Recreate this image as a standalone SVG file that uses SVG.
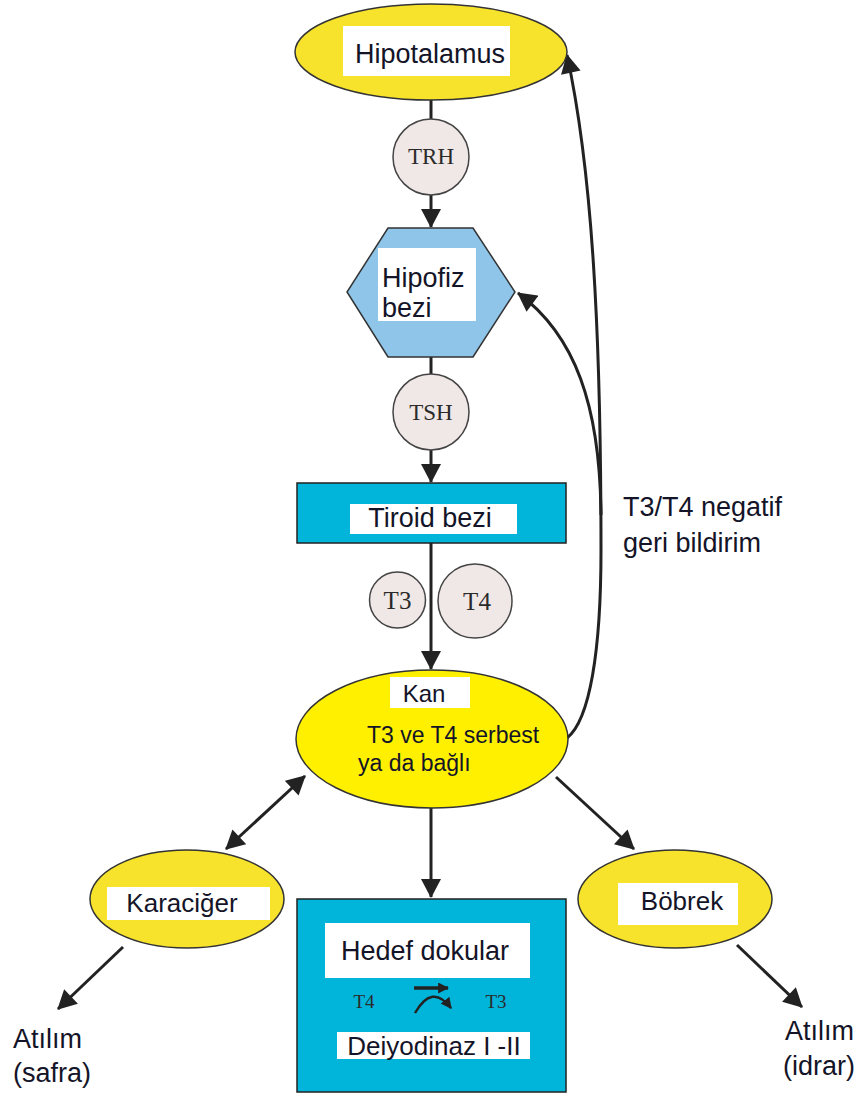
<svg xmlns="http://www.w3.org/2000/svg" width="865" height="1095" viewBox="0 0 865 1095">
<style>
.lbl{font-family:"Liberation Sans",Arial,sans-serif;fill:#141428}
.ser{font-family:"Liberation Serif","Times New Roman",serif;fill:#2a2a2a}
.wb{fill:#ffffff}
.yel{fill:#f7e32c;stroke:#333;stroke-width:1.5}
.cyan{fill:#00b4da;stroke:#222;stroke-width:1.5}
.hc{fill:#f0e8e6;stroke:#444;stroke-width:1.5}
.con{fill:none;stroke:#222;stroke-width:3}
</style>
<defs>
<marker id="ah" markerUnits="userSpaceOnUse" markerWidth="20" markerHeight="20" viewBox="0 0 19 20" refX="18" refY="10" orient="auto-start-reverse">
<path d="M0,0 L19,10 L0,20 z" fill="#222"/>
</marker>
<marker id="sa" markerUnits="userSpaceOnUse" markerWidth="11" markerHeight="11" viewBox="0 0 10 10" refX="9" refY="5" orient="auto">
<path d="M0,0 L10,5 L0,10 z" fill="#222"/>
</marker>
</defs>
<rect width="865" height="1095" fill="#ffffff"/>

<g id="connectors">
<line class="con" x1="431" y1="100" x2="431" y2="119"/>
<line class="con" x1="431" y1="194" x2="431" y2="227" marker-end="url(#ah)"/>
<line class="con" x1="431" y1="357" x2="431" y2="375"/>
<line class="con" x1="431" y1="450" x2="431" y2="482" marker-end="url(#ah)"/>
<line class="con" x1="431" y1="543" x2="431" y2="669" marker-end="url(#ah)"/>
<line class="con" x1="431" y1="808" x2="431" y2="897" marker-end="url(#ah)"/>
<line class="con" x1="305" y1="776" x2="226" y2="849" marker-start="url(#ah)" marker-end="url(#ah)"/>
<line class="con" x1="556" y1="777" x2="634" y2="849" marker-end="url(#ah)"/>
<line class="con" x1="123" y1="947" x2="58" y2="1009" marker-end="url(#ah)"/>
<line class="con" x1="737" y1="945" x2="802" y2="1007" marker-end="url(#ah)"/>
<path class="con" d="M567,738 C590,720 601,650 601,550 C601,330 592,170 567,55" marker-end="url(#ah)"/>
<path class="con" d="M601,515 C600,405 575,335 518,293" marker-end="url(#ah)"/>
</g>

<g id="hipotalamus">
<ellipse class="yel" cx="431" cy="52" rx="136" ry="48"/>
<rect class="wb" x="343" y="26" width="167" height="50"/>
<text class="lbl" x="430" y="63" font-size="27" text-anchor="middle">Hipotalamus</text>
</g>

<g id="trh">
<circle class="hc" cx="431" cy="157" r="38"/>
<text class="ser" x="431" y="164" font-size="23" text-anchor="middle">TRH</text>
</g>

<g id="hipofiz">
<polygon points="388,228 473,228 515,292 473,357 388,357 347,292" fill="#8ec5e9" stroke="#333" stroke-width="1.5"/>
<rect class="wb" x="378" y="248" width="98" height="73"/>
<text class="lbl" x="382" y="287" font-size="27">Hipofiz</text>
<text class="lbl" x="382" y="317" font-size="27">bezi</text>
</g>

<g id="tsh">
<circle class="hc" cx="431" cy="412" r="38"/>
<text class="ser" x="431" y="420" font-size="23" text-anchor="middle">TSH</text>
</g>

<g id="tiroid">
<rect class="cyan" x="297" y="483" width="269" height="60"/>
<rect class="wb" x="350" y="504" width="167" height="30"/>
<text class="lbl" x="430" y="527" font-size="27" text-anchor="middle">Tiroid bezi</text>
</g>

<g id="t3">
<circle class="hc" cx="397.5" cy="600" r="28"/>
<text class="ser" x="397.5" y="609" font-size="25" text-anchor="middle">T3</text>
</g>

<g id="t4">
<circle class="hc" cx="475" cy="601" r="37"/>
<text class="ser" x="477" y="610" font-size="25" text-anchor="middle">T4</text>
</g>

<g id="kan">
<ellipse cx="432" cy="739" rx="136" ry="69" fill="#fff000" stroke="#333" stroke-width="1.5"/>
<rect class="wb" x="390" y="677" width="80" height="31"/>
<text class="lbl" x="424" y="702" font-size="24" text-anchor="middle">Kan</text>
<text class="lbl" x="367" y="743" font-size="23">T3 ve T4 serbest</text>
<text class="lbl" x="358" y="771" font-size="23">ya da bağlı</text>
</g>

<g id="karaciger">
<ellipse class="yel" cx="187" cy="899" rx="97" ry="49"/>
<rect class="wb" x="107" y="887" width="163" height="33"/>
<text class="lbl" x="182" y="912" font-size="26" text-anchor="middle">Karaciğer</text>
</g>

<g id="bobrek">
<ellipse class="yel" cx="675" cy="899" rx="97" ry="49"/>
<rect class="wb" x="618" y="883" width="120" height="42"/>
<text class="lbl" x="682" y="910" font-size="26" text-anchor="middle">Böbrek</text>
</g>

<g id="hedef">
<rect class="cyan" x="297" y="899" width="269" height="193"/>
<rect class="wb" x="325" y="923" width="205" height="55"/>
<text class="lbl" x="425" y="960" font-size="27" text-anchor="middle">Hedef dokular</text>
<text class="ser" x="364" y="1008" font-size="19" text-anchor="middle" fill="#1c2f33">T4</text>
<text class="ser" x="496" y="1008" font-size="19" text-anchor="middle" fill="#1c2f33">T3</text>
<line x1="414" y1="988" x2="448" y2="988" stroke="#222" stroke-width="3.5" marker-end="url(#sa)"/>
<path d="M415,1013 Q432,983 451,1008" fill="none" stroke="#222" stroke-width="2.5" marker-end="url(#sa)"/>
<rect class="wb" x="337" y="1032" width="193" height="27"/>
<text class="lbl" x="434" y="1055" font-size="26" text-anchor="middle">Deiyodinaz I -II</text>
</g>

<g id="atilim-safra">
<text class="lbl" x="13" y="1048" font-size="27">Atılım</text>
<text class="lbl" x="13" y="1082" font-size="27">(safra)</text>
</g>

<g id="atilim-idrar">
<text class="lbl" x="785" y="1040" font-size="27">Atılım</text>
<text class="lbl" x="783" y="1075" font-size="27">(idrar)</text>
</g>

<g id="feedback-label">
<text class="lbl" x="623" y="516" font-size="27">T3/T4 negatif</text>
<text class="lbl" x="623" y="552" font-size="27">geri bildirim</text>
</g>
</svg>
